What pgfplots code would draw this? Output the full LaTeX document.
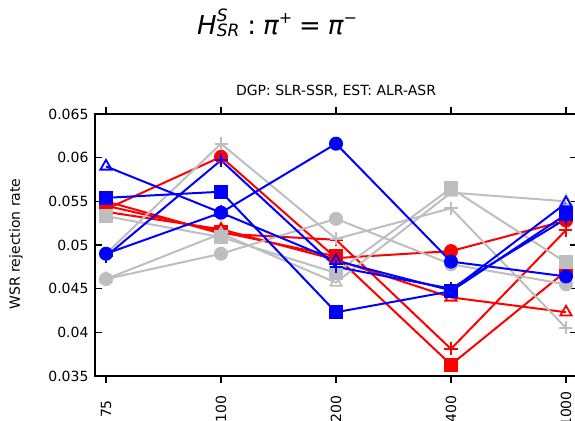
\documentclass[border=0pt]{standalone}
\usepackage{fontspec}
\setmainfont{DejaVu Sans}
\usepackage{pgfplots}
\pgfplotsset{compat=1.18}
\definecolor{mygray}{RGB}{190,190,190}
\begin{document}
\begin{tikzpicture}[x=1pt,y=1pt]
\useasboundingbox (0,0) rectangle (575,420);
% titles
\node[anchor=base west,inner sep=0pt] at (197,385) {\fontsize{26}{26}\selectfont
  \itshape H\makebox[0pt][l]{\raisebox{13pt}{\fontsize{17}{17}\selectfont S}}\raisebox{-2pt}{\fontsize{17}{17}\selectfont SR}\upshape\hspace{8pt}:\hspace{7pt}\itshape π\raisebox{11pt}{\upshape\fontsize{16}{16}\selectfont +}\upshape\hspace{7pt}=\hspace{7pt}\itshape π\raisebox{11pt}{\upshape\fontsize{16}{16}\selectfont −}};
\node[anchor=base] at (336,324) {\fontsize{14}{14}\selectfont DGP: SLR-SSR, EST: ALR-ASR};
\node[rotate=90] at (16,176) {\fontsize{14}{14}\selectfont WSR rejection rate};
\begin{axis}[
    at={(95pt,44pt)}, anchor=south west,
    scale only axis, width=482pt, height=262pt,
    xmin=-0.0957, xmax=4.0957,
    ymin=0.035, ymax=0.065,
    scaled y ticks=false,
    xtick={0,1,2,3,4},
    xticklabels={75,100,200,400,1000},
    ytick={0.035,0.04,0.045,0.05,0.055,0.06,0.065},
    yticklabels={0.035,0.04,0.045,0.05,0.055,0.06,0.065},
    xtick pos=both, ytick pos=both,
    xtick align=outside, ytick align=inside,
    major tick length=7pt,
    tick style={black, line width=1.5pt},
    axis line style={line width=2.2pt},
    tick label style={font=\fontsize{14}{14}\selectfont},
    x tick label style={rotate=90, anchor=center, xshift=-26pt},
    y tick label style={xshift=-3pt},
    clip=false,
    every axis plot/.append style={line width=2pt, mark options={solid}},
]
% red
\addplot[red, mark=*, mark size=6pt] coordinates {(0,0.0541)(1,0.0601)(2,0.0485)(3,0.0493)(4,0.0528)};
\addplot[red, mark=square*, mark size=6pt] coordinates {(0,0.0545)(1,0.0515)(2,0.0487)(3,0.0363)(4,0.0470)};
\addplot[red, mark=triangle, mark size=6.5pt, mark options={line width=1.8pt}] coordinates {(0,0.0538)(1,0.0518)(2,0.0483)(3,0.0440)(4,0.0423)};
\addplot[red, mark=+, mark size=6.5pt, mark options={line width=1.8pt}] coordinates {(0,0.0550)(1,0.0513)(2,0.0506)(3,0.0381)(4,0.0517)};
% gray
\addplot[mygray, mark=*, mark size=6pt] coordinates {(0,0.0461)(1,0.0490)(2,0.0530)(3,0.0478)(4,0.0455)};
\addplot[mygray, mark=square*, mark size=6pt] coordinates {(0,0.0533)(1,0.0509)(2,0.0468)(3,0.0565)(4,0.0480)};
\addplot[mygray, mark=triangle, mark size=6.5pt, mark options={line width=1.8pt}] coordinates {(0,0.0461)(1,0.0513)(2,0.0457)(3,0.0560)(4,0.0550)};
\addplot[mygray, mark=+, mark size=6.5pt, mark options={line width=1.8pt}] coordinates {(0,0.0490)(1,0.0616)(2,0.0507)(3,0.0542)(4,0.0405)};
% blue
\addplot[blue, mark=*, mark size=6pt] coordinates {(0,0.0490)(1,0.0537)(2,0.0616)(3,0.0481)(4,0.0464)};
\addplot[blue, mark=square*, mark size=6pt] coordinates {(0,0.0554)(1,0.0561)(2,0.0423)(3,0.0447)(4,0.0535)};
\addplot[blue, mark=triangle, mark size=6.5pt, mark options={line width=1.8pt}] coordinates {(0,0.0590)(1,0.0537)(2,0.0482)(3,0.0448)(4,0.0548)};
\addplot[blue, mark=+, mark size=6.5pt, mark options={line width=1.8pt}] coordinates {(0,0.0487)(1,0.0597)(2,0.0475)(3,0.0450)(4,0.0530)};
\end{axis}
\end{tikzpicture}
\end{document}
